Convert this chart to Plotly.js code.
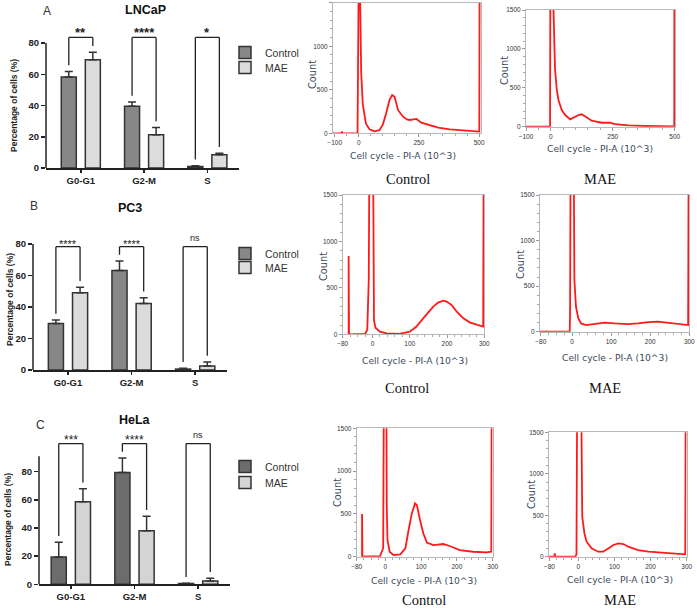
<!DOCTYPE html>
<html>
<head>
<meta charset="utf-8">
<script src="https://cdn.plot.ly/plotly-3.0.1.min.js"></script>
<style>html,body{margin:0;padding:0;background:#fff;}#chart{width:697px;height:608px;}</style>
</head>
<body>
<div id="chart"></div>
<script>
// ---------- DATA ----------
const phases = ['G0-G1', 'G2-M', 'S'];
const groupNames = ['Control', 'MAE'];

const lncapCtrl = [58.3, 39.5, 0.9];
const lncapCtrlErr = [3.4, 2.7, 0.6];
const lncapMae = [69.3, 21.3, 8.5];
const lncapMaeErr = [4.8, 4.7, 0.9];
const lncapSig = ['**', '****', '*'];

const pc3Ctrl = [29.6, 63.1, 0.6];
const pc3CtrlErr = [2.1, 6.1, 0.5];
const pc3Mae = [49.1, 42.3, 2.5];
const pc3MaeErr = [3.4, 3.6, 2.6];
const pc3Sig = ['****', '****', 'ns'];

const helaCtrl = [19.4, 79.5, 0.5];
const helaCtrlErr = [10.4, 10.2, 0.2];
const helaMae = [58.7, 38.1, 2.4];
const helaMaeErr = [9.2, 10.2, 1.9];
const helaSig = ['***', '****', 'ns'];

const cellLines = ['LNCaP', 'PC3', 'HeLa'];
const panelLetters = ['A', 'B', 'C'];
const yTicks = [0, 20, 40, 60, 80];

// flow cytometry histograms (PI-A in 10^3 vs count)
const lncapCtrlX = [-107, -72, -70, -68, -5, -2, 0, 3, 6, 10, 17, 30, 45, 65, 86, 100, 114, 128, 139, 149, 163, 184, 200, 212, 228, 240, 260, 290, 330, 379, 448, 497, 501, 503];
const lncapCtrlY = [0, 0, 20, 0, 0, 1200, 3000, 3000, 1500, 700, 330, 110, 45, 22, 35, 100, 230, 383, 440, 420, 268, 191, 160, 153, 160, 165, 122, 95, 65, 46, 31, 19, 20, 3000];
const lncapMaeX = [-100, -3, -1, 4, 8, 11, 17, 24, 31, 44, 58, 78, 98, 112, 125, 138, 165, 205, 239, 259, 312, 379, 450, 495, 498, 499];
const lncapMaeY = [0, 0, 3000, 3000, 1800, 1300, 740, 480, 343, 214, 150, 94, 129, 150, 159, 129, 77, 51, 51, 34, 17, 9, 5, 2, 3, 3000];
const pc3CtrlX = [-64, -64, -63, -20, -14, -10, -7, 0, 2, 4, 8, 20, 38, 73, 100, 118, 136, 150, 163, 176, 190, 199, 212, 226, 244, 262, 280, 297, 299];
const pc3CtrlY = [0, 843, 0, 5, 50, 600, 3000, 3000, 800, 150, 70, 29, 11, 4, 29, 83, 172, 244, 298, 341, 362, 352, 316, 244, 172, 126, 100, 83, 3000];
const pc3MaeX = [-82, -66, -65, -64, -6, -5, -3, 3, 6, 10, 16, 23, 36, 57, 83, 109, 143, 169, 195, 220, 246, 272, 297, 299];
const pc3MaeY = [0, 0, 10, 0, 0, 200, 3000, 3000, 567, 274, 146, 91, 73, 84, 99, 91, 84, 91, 106, 110, 99, 84, 73, 3000];
const helaCtrlX = [-65, -65, -64, -15, -6, -3, 2, 4, 6, 12, 23, 42, 56, 65, 74, 83, 88, 97, 106, 116, 134, 162, 180, 208, 245, 282, 296, 298];
const helaCtrlY = [0, 499, 0, 5, 100, 3000, 3000, 600, 195, 58, 19, 27, 97, 312, 506, 623, 604, 429, 273, 164, 136, 148, 125, 78, 58, 51, 58, 3000];
const helaMaeX = [-81, -66, -65, -64, -8, -5, -2, 6, 11, 17, 23, 37, 55, 69, 83, 97, 111, 125, 138, 166, 194, 231, 268, 296, 298];
const helaMaeY = [0, 0, 40, 0, 0, 30, 3000, 3000, 483, 281, 181, 100, 60, 60, 100, 141, 161, 153, 121, 80, 60, 48, 40, 28, 3000];

// ---------- LAYOUT HELPERS ----------
const W = 697, H = 608;
const px = v => v / W;
const py = v => 1 - v / H;
const FONT = 'Liberation Sans, Arial, sans-serif';
const BARGAP = 0.24, BARGROUPGAP = 0.375;
const legOff = (1 - BARGAP) / 4;

const traces = [];
const shapes = [];
const annotations = [];
const layout = {
  width: W, height: H,
  margin: {l: 0, r: 0, t: 0, b: 0},
  paper_bgcolor: '#ffffff', plot_bgcolor: '#ffffff',
  barmode: 'group', bargap: BARGAP, bargroupgap: BARGROUPGAP,
  font: {family: FONT, color: '#222'},
};
function note(x, y, text, font, extra) {
  annotations.push(Object.assign({xref: 'paper', yref: 'paper', x: px(x), y: py(y), xanchor: 'center',
    yanchor: 'middle', showarrow: false, text: text, font: font}, extra || {}));
}

// bar panels
const barPanels = [
  {ctrl: lncapCtrl, ctrlErr: lncapCtrlErr, mae: lncapMae, maeErr: lncapMaeErr, sig: lncapSig,
   xpx: [46, 239], zero: 168, top80: 43, ymax: 92, axisTop: 80, bracketTop: 83.6, gap: 4,
   ctrlColor: '#878787', maeColor: '#dcdcdc', title: [145, 10], letter: [47, 11], ytitle: [14, 106],
   legend: [225, 38, 53], starSize: 13, starBold: true},
  {ctrl: pc3Ctrl, ctrlErr: pc3CtrlErr, mae: pc3Mae, maeErr: pc3MaeErr, sig: pc3Sig,
   xpx: [33, 227], zero: 370, top80: 244, ymax: 88, axisTop: 80, bracketTop: 78.3, gap: 4,
   ctrlColor: '#878787', maeColor: '#dcdcdc', title: [130, 208], letter: [34, 206], ytitle: [10, 300],
   legend: [225, 239, 253], starSize: 11, starBold: false},
  {ctrl: helaCtrl, ctrlErr: helaCtrlErr, mae: helaMae, maeErr: helaMaeErr, sig: helaSig,
   xpx: [39, 230], zero: 584.3, top80: 471.7, ymax: 112, axisTop: 91, bracketTop: 100, gap: 4.5,
   ctrlColor: '#6c6c6c', maeColor: '#d4d4d4', title: [135, 420], letter: [40, 425], ytitle: [8, 520],
   legend: [225, 452, 468], starSize: 12, starBold: false},
];

let legendCount = 0;
barPanels.forEach((p, k) => {
  const n = k + 1;
  const xa = 'xaxis' + (n === 1 ? '' : n), ya = 'yaxis' + (n === 1 ? '' : n);
  const xr = 'x' + (n === 1 ? '' : n), yr = 'y' + (n === 1 ? '' : n);
  const pxPerUnit = (p.zero - p.top80) / 80;
  const topPx = p.zero - p.ymax * pxPerUnit;
  const xs = phases.map((_, i) => i);
  const mk = (vals, errs, name, color, legTop) => {
    legendCount += 1;
    const lg = 'legend' + (legendCount === 1 ? '' : legendCount);
    layout[lg] = {x: px(p.legend[0]), y: py(legTop), xanchor: 'left', yanchor: 'top',
      bgcolor: 'rgba(0,0,0,0)', font: {family: FONT, size: 10.5, color: '#333'}, itemwidth: 30};
    return {
      type: 'bar', x: xs, y: vals, name: name, xaxis: xr, yaxis: yr, legend: lg,
      marker: {color: color, line: {color: '#333', width: 1.5}},
      error_y: {type: 'data', symmetric: false, array: errs, arrayminus: errs.map(() => 0),
                color: '#333', thickness: 1.5, width: 4},
      hoverinfo: 'skip',
    };
  };
  traces.push(mk(p.ctrl, p.ctrlErr, groupNames[0], p.ctrlColor, p.legend[1]));
  traces.push(mk(p.mae, p.maeErr, groupNames[1], p.maeColor, p.legend[2]));
  layout[xa] = {
    domain: [px(p.xpx[0]), px(p.xpx[1])], anchor: yr, range: [k === 2 ? -0.5 : -0.55, 2.5],
    tickvals: xs, ticktext: phases, showline: true, linecolor: '#222', linewidth: 1.5,
    ticks: 'outside', ticklen: 3, tickwidth: 1.5, tickcolor: '#222',
    tickfont: {family: FONT, size: 9.5, color: '#222', weight: 'bold'},
    showgrid: false, zeroline: false, fixedrange: true,
  };
  layout[ya] = {
    domain: [py(p.zero), py(topPx)], anchor: xr, range: [0, p.ymax],
    tickvals: yTicks, showline: false, ticks: 'outside', ticklen: 4, tickwidth: 1.5, tickcolor: '#222',
    tickfont: {family: FONT, size: 9.5, color: '#222', weight: 'bold'},
    showgrid: false, zeroline: false, fixedrange: true,
  };
  // y axis line
  shapes.push({type: 'line', xref: xr + ' domain', yref: yr, x0: 0, x1: 0, y0: 0, y1: p.axisTop,
               line: {color: '#222', width: 1.5}});
  // significance brackets
  phases.forEach((_, i) => {
    const lEnd = p.ctrl[i] + p.ctrlErr[i] + p.gap;
    const rEnd = p.mae[i] + p.maeErr[i] + p.gap;
    const L = i - legOff, R = i + legOff;
    const ln = {color: '#222', width: 1.3};
    shapes.push({type: 'line', xref: xr, yref: yr, x0: L, x1: L, y0: lEnd, y1: p.bracketTop, line: ln});
    shapes.push({type: 'line', xref: xr, yref: yr, x0: L, x1: R, y0: p.bracketTop, y1: p.bracketTop, line: ln});
    shapes.push({type: 'line', xref: xr, yref: yr, x0: R, x1: R, y0: rEnd, y1: p.bracketTop, line: ln});
    const isNs = p.sig[i] === 'ns';
    annotations.push({
      xref: xr, yref: yr, x: i, y: p.bracketTop, xanchor: 'center', yanchor: 'bottom', showarrow: false,
      text: p.sig[i], yshift: isNs ? 2 : -5,
      font: {family: FONT, size: isNs ? 9 : p.starSize, color: '#222', weight: (p.starBold && !isNs) ? 'bold' : 'normal'},
    });
  });
  note(p.title[0], p.title[1], cellLines[k], {family: FONT, size: 12.5, color: '#111', weight: 'bold'});
  note(p.letter[0], p.letter[1], panelLetters[k], {family: FONT, size: 12, color: '#333'});
  note(p.ytitle[0], p.ytitle[1], 'Percentage of cells (%)', {family: FONT, size: 8.5, color: '#222', weight: 'bold'}, {textangle: -90});
});

// histogram panels
const histPanels = [
  {x: lncapCtrlX, y: lncapCtrlY, xr: [-107, 508], ticks: [-100, 0, 250, 500], minor: 50,
   box: [333, 481, 2.7, 133.3], xt: [403, 156], ct: [313, 75], cap: ['Control', 408, 179]},
  {x: lncapMaeX, y: lncapMaeY, xr: [-100, 501], ticks: [-100, 0, 250, 500], minor: 50,
   box: [526, 675, 10, 126.7], xt: [600, 149], ct: [505, 70], cap: ['MAE', 600, 179]},
  {x: pc3CtrlX, y: pc3CtrlY, xr: [-80, 300], ticks: [-80, 0, 100, 200, 300], minor: 20,
   box: [342.7, 484.3, 195, 334.3], xt: [415, 360], ct: [323, 267], cap: ['Control', 407, 388]},
  {x: pc3MaeX, y: pc3MaeY, xr: [-82, 300], ticks: [-80, 0, 100, 200, 300], minor: 20,
   box: [540, 689.3, 195, 331.7], xt: [615, 357], ct: [520, 265], cap: ['MAE', 605, 388]},
  {x: helaCtrlX, y: helaCtrlY, xr: [-80, 300], ticks: [-80, 0, 100, 200, 300], minor: 20,
   box: [356.7, 492.7, 428.3, 556.7], xt: [424, 580], ct: [337, 493], cap: ['Control', 424, 600]},
  {x: helaMaeX, y: helaMaeY, xr: [-81, 300], ticks: [-80, 0, 100, 200, 300], minor: 20,
   box: [549, 686.7, 432.3, 556.7], xt: [620, 579], ct: [531, 495], cap: ['MAE', 620, 600]},
];
const histTicksY = [0, 500, 1000, 1500];
const HFONT = 'Liberation Sans, Arial, sans-serif';

histPanels.forEach((h, k) => {
  const n = k + 4;
  const xa = 'xaxis' + n, ya = 'yaxis' + n, xr = 'x' + n, yr = 'y' + n;
  traces.push({type: 'scatter', mode: 'lines', x: h.x, y: h.y, xaxis: xr, yaxis: yr,
    line: {color: '#ff1a1a', width: 1.8}, showlegend: false, hoverinfo: 'skip'});
  layout[xa] = {
    domain: [px(h.box[0]), px(h.box[1])], anchor: yr, range: h.xr, tickvals: h.ticks,
    showline: true, mirror: true, linecolor: '#b8b8b8', linewidth: 1,
    ticks: 'outside', ticklen: 3, tickcolor: '#999', tickfont: {family: HFONT, size: 6.5, color: '#333'},
    minor: {ticks: 'outside', ticklen: 2, tickcolor: '#aaa', dtick: h.minor, tick0: 0},
    showgrid: false, zeroline: false, fixedrange: true,
  };
  layout[ya] = {
    domain: [py(h.box[3]), py(h.box[2])], anchor: xr, range: [0, 1500], tickvals: histTicksY,
    showline: true, mirror: true, linecolor: '#b8b8b8', linewidth: 1,
    ticks: 'outside', ticklen: 3, tickcolor: '#999', tickfont: {family: HFONT, size: 6.5, color: '#333'},
    minor: {ticks: 'outside', ticklen: 2, tickcolor: '#aaa', dtick: 100, tick0: 0},
    showgrid: false, zeroline: false, fixedrange: true,
  };
  note(h.xt[0], h.xt[1], 'Cell cycle - PI-A (10^3)', {family: 'DejaVu Sans, sans-serif', size: 9.2, color: '#3d4a5c'});
  note(h.ct[0], h.ct[1], 'Count', {family: 'DejaVu Sans, sans-serif', size: 9.8, color: '#3d4a5c'}, {textangle: -90});
  note(h.cap[1], h.cap[2], h.cap[0], {family: 'Liberation Serif, Times New Roman, serif', size: 14.5, color: '#111'});
});

layout.shapes = shapes;
layout.annotations = annotations;

Plotly.newPlot('chart', traces, layout, {displayModeBar: false, staticPlot: true});
</script>
</body>
</html>
